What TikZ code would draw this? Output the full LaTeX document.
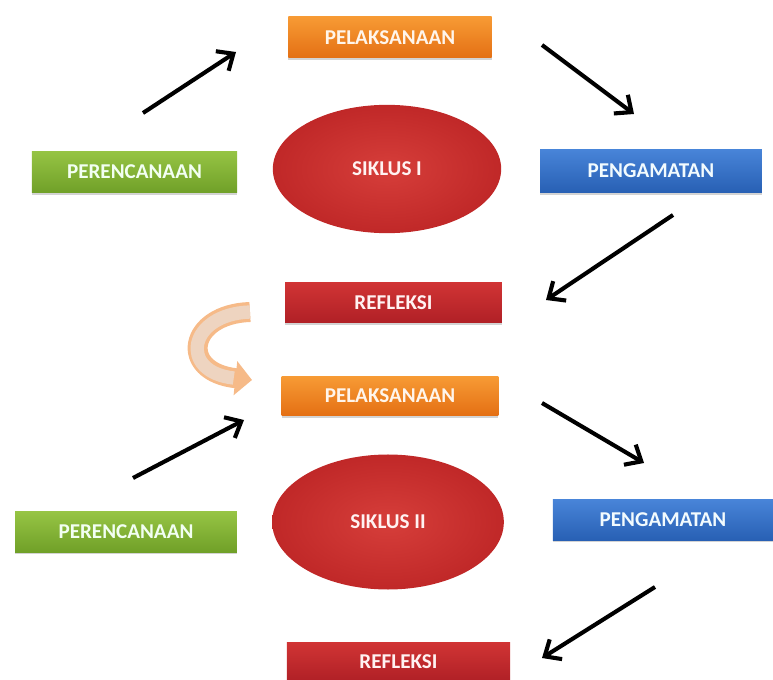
\documentclass[tikz,border=0pt]{standalone}
\usepackage{fontspec}
\setmainfont{Carlito}
\usetikzlibrary{shapes.geometric, arrows.meta, positioning, calc, shadows}

\definecolor{execTop}{RGB}{247,154,52}
\definecolor{execBot}{RGB}{228,112,20}
\definecolor{planTop}{RGB}{150,196,68}
\definecolor{planBot}{RGB}{112,160,40}
\definecolor{obsTop}{RGB}{72,132,216}
\definecolor{obsBot}{RGB}{40,96,180}
\definecolor{reflTop}{RGB}{208,52,52}
\definecolor{reflBot}{RGB}{176,32,38}
\definecolor{siklusIn}{RGB}{214,62,58}
\definecolor{siklusOut}{RGB}{192,40,40}
\definecolor{bendPeach}{RGB}{246,186,136}
\definecolor{bendCore}{RGB}{238,212,192}

\begin{document}
\begin{tikzpicture}[
        x=0.03cm, y=-0.03cm,
        font=\bfseries\fontsize{18}{20}\selectfont,
        stage/.style={rectangle, inner sep=0pt, minimum height=1.2cm,
            drop shadow={shadow xshift=0pt, shadow yshift=-2pt, opacity=.35}},
        exec/.style={stage, top color=execTop, bottom color=execBot, text=orange!8},
        plan/.style={stage, top color=planTop, bottom color=planBot, text=green!5},
        obs/.style={stage, top color=obsTop, bottom color=obsBot, text=cyan!5},
        refl/.style={stage, top color=reflTop, bottom color=reflBot, text=red!5},
        siklus/.style={ellipse, inner sep=0pt, inner color=siklusIn, outer color=siklusOut,
            text=red!5},
        flow/.style={line width=3.5pt, -{Straight Barb[length=4mm, width=7mm]}},
        turnarrow/.style={line width=0.6cm, draw=bendPeach, -{Triangle[length=0.5cm, width=1cm]}},
        turncore/.style={line width=0.4cm, draw=bendCore, shorten >=0.55cm}
    ]
        \useasboundingbox (0,0) rectangle (773,680);

        % Siklus I
        \node[exec, minimum width=6.1cm, minimum height=1.23cm] (exec1) at (390,37.5) {PELAKSANAAN};
        \node[plan, minimum width=6.15cm, minimum height=1.25cm] (plan1) at (134.5,172) {PERENCANAAN};
        \node[siklus, minimum width=6.85cm, minimum height=3.85cm] (siklus1) at (387,169) {SIKLUS I};
        \node[obs, minimum width=6.65cm, minimum height=1.28cm] (obs1) at (651,171) {PENGAMATAN};
        \node[refl, minimum width=6.5cm, minimum height=1.2cm] (refl1) at (393.5,303) {REFLEKSI};

        % Siklus II
        \node[exec, minimum width=6.5cm, minimum height=1.15cm] (exec2) at (390,396) {PELAKSANAAN};
        \node[plan, minimum width=6.65cm, minimum height=1.2cm] (plan2) at (126,532) {PERENCANAAN};
        \node[siklus, minimum width=6.95cm, minimum height=4.05cm] (siklus2) at (388,522) {SIKLUS II};
        \node[obs, minimum width=6.6cm, minimum height=1.2cm] (obs2) at (663,520) {PENGAMATAN};
        \node[refl, minimum width=6.7cm, minimum height=1.15cm] (refl2) at (398.5,662) {REFLEKSI};

        % Arrow ends
        \coordinate (f1s) at (143,113);
        \coordinate (f1e) at (236,52);
        \coordinate (f2s) at (542,45);
        \coordinate (f2e) at (634,114);
        \coordinate (f3s) at (673,215);
        \coordinate (f3e) at (546,300);
        \coordinate (f4s) at (133,478);
        \coordinate (f4e) at (244,420);
        \coordinate (f5s) at (542,403);
        \coordinate (f5e) at (644,463);
        \coordinate (f6s) at (655,587);
        \coordinate (f6e) at (542,658);
        \coordinate (bs) at (250,312);
        \coordinate (be) at (252,380);

        % Arrows
        \draw[flow] (f1s) -- (f1e);
        \draw[flow] (f2s) -- (f2e);
        \draw[flow] (f3s) -- (f3e);
        \draw[flow] (f4s) -- (f4e);
        \draw[flow] (f5s) -- (f5e);
        \draw[flow] (f6s) -- (f6e);

        % Bend to next cycle
        \draw[turnarrow] (bs) .. controls (188,314) and (178,372) .. (be);
        \draw[turncore] (bs) .. controls (188,314) and (178,372) .. (be);
    \end{tikzpicture}
\end{document}
